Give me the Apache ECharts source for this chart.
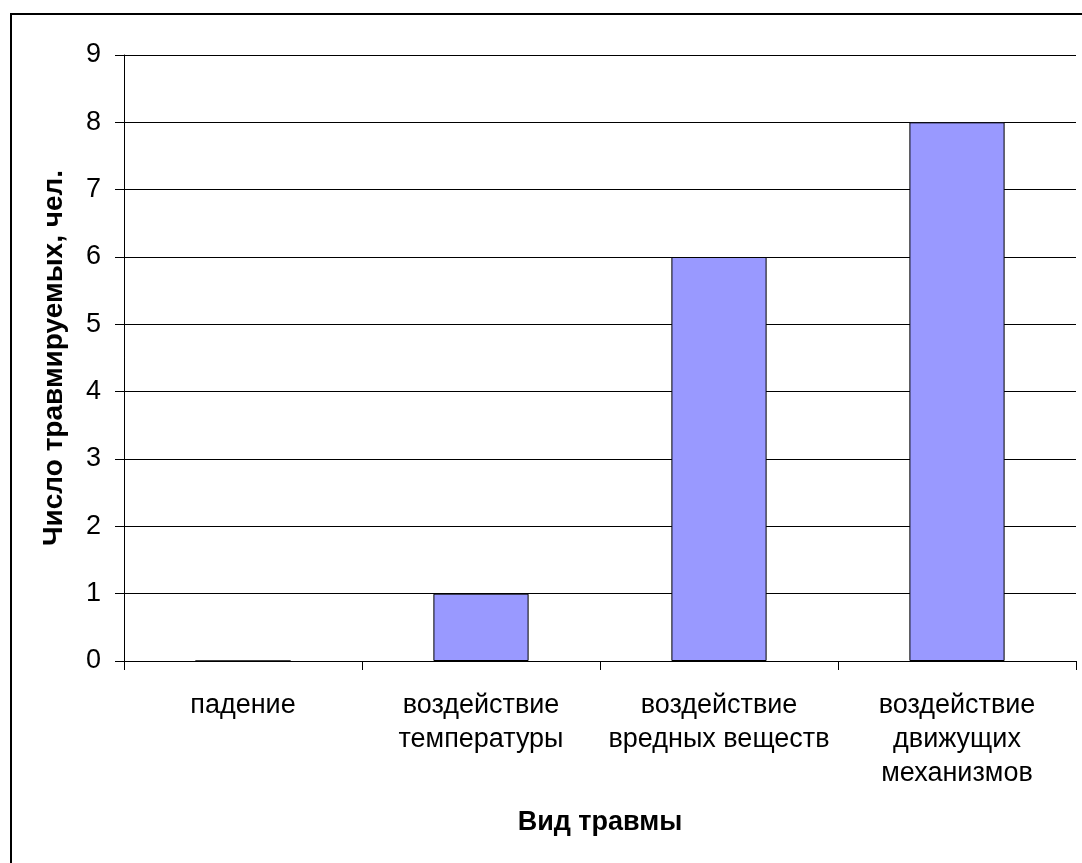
<!DOCTYPE html>
<html>
<head>
<meta charset="utf-8">
<script src="https://cdn.jsdelivr.net/npm/echarts@6/dist/echarts.min.js"></script>
<style>
  html, body { margin: 0; padding: 0; background: #fff; }
  #chart { width: 1082px; height: 863px; }
</style>
</head>
<body>
<div id="chart"></div>
<script>
// Injury types and number of injured people
const categories = [
  'падение',
  'воздействие\nтемпературы',
  'воздействие\nвредных веществ',
  'воздействие\nдвижущих\nмеханизмов'
];
const injured = [0, 1, 6, 8];
const yTicks = { min: 0, max: 9, interval: 1 };
const xTitle = 'Вид травмы';
const yTitle = 'Число травмируемых, чел.';

const font = '"Liberation Sans", Arial, sans-serif';
const chart = echarts.init(document.getElementById('chart'), null, { renderer: 'canvas' });

chart.setOption({
  backgroundColor: '#ffffff',
  animation: false,
  textStyle: { fontFamily: font, color: '#000' },
  graphic: [{
    type: 'rect',
    shape: { x: 11, y: 14, width: 1200, height: 1000 },
    style: { fill: 'none', stroke: '#000', lineWidth: 2 },
    silent: true,
    z: 100
  }],
  grid: { left: 124, right: 6, top: 55, bottom: 202, containLabel: false },
  xAxis: {
    type: 'category',
    data: categories,
    name: xTitle,
    nameLocation: 'middle',
    nameGap: 148,
    nameTextStyle: { fontFamily: font, fontSize: 27, fontWeight: 'bold', color: '#000' },
    axisLine: { show: true, lineStyle: { color: '#000', width: 1 } },
    axisTick: { show: true, length: 9, lineStyle: { color: '#000', width: 1 } },
    axisLabel: {
      interval: 0,
      margin: 28,
      fontFamily: font,
      fontSize: 27,
      lineHeight: 34,
      color: '#000'
    },
    splitLine: { show: false }
  },
  yAxis: {
    type: 'value',
    min: yTicks.min,
    max: yTicks.max,
    interval: yTicks.interval,
    name: yTitle,
    nameLocation: 'middle',
    nameGap: 56,
    nameTextStyle: { fontFamily: font, fontSize: 28, fontWeight: 'bold', color: '#000' },
    axisLine: { show: true, lineStyle: { color: '#000', width: 1 } },
    axisTick: { show: true, length: 9, lineStyle: { color: '#000', width: 1 } },
    axisLabel: { margin: 23, fontFamily: font, fontSize: 27, color: '#000' },
    splitLine: { show: true, lineStyle: { color: '#000', width: 1 } }
  },
  series: [{
    type: 'bar',
    data: injured,
    barWidth: '40%',
    itemStyle: { color: '#9999FF', borderColor: '#000', borderWidth: 1 }
  }]
});
</script>
</body>
</html>
